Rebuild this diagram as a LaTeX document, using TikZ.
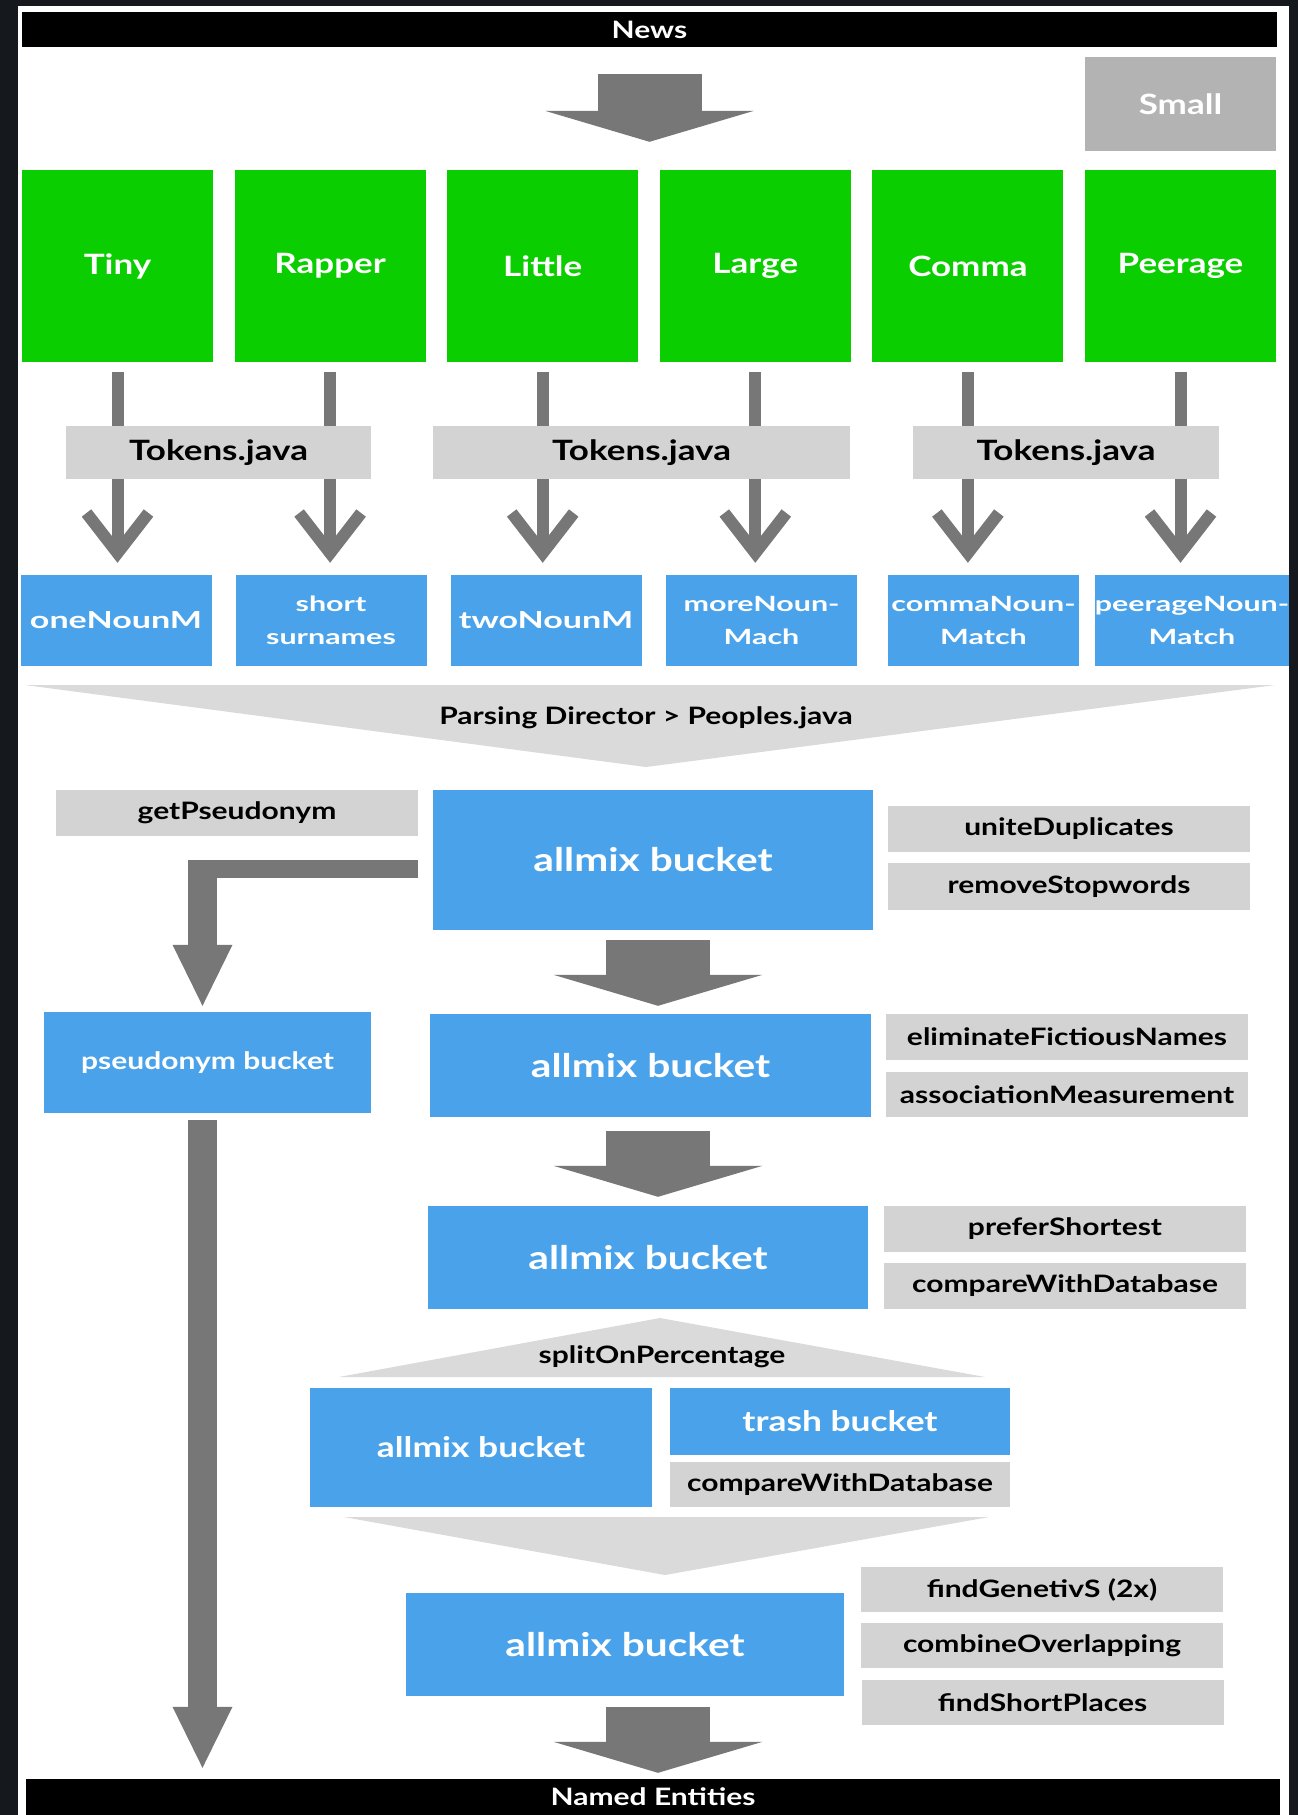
\documentclass[tikz,border=0pt]{standalone}
\usepackage{fontspec}
\setmainfont{Lato}[FakeStretch=1.25]
\newfontfamily\widefont{Lato}[FakeStretch=1.45]
\usetikzlibrary{arrows.meta}

\definecolor{framedark}{HTML}{15181C}
\definecolor{filtergreen}{HTML}{0BCE00}
\definecolor{bucketblue}{HTML}{4AA3EA}
\definecolor{methodgray}{HTML}{D3D3D3}
\definecolor{funnelgray}{HTML}{DADADA}
\definecolor{smallgray}{HTML}{B3B3B3}
\definecolor{arrowgray}{HTML}{777777}

\begin{document}
\begin{tikzpicture}[x=1pt, y=-1pt,
    every node/.style={inner sep=0pt, font=\bfseries},
    bar/.style={fill=black, text=white, minimum height=35pt,
      font=\bfseries\fontsize{24}{24}\selectfont},
    filter/.style={fill=filtergreen, text=white, minimum width=191pt,
      minimum height=192pt, font=\bfseries\fontsize{28}{28}\selectfont},
    tokens/.style={fill=methodgray, minimum height=53pt,
      font=\bfseries\fontsize{28}{28}\selectfont},
    match/.style={fill=bucketblue, text=white, minimum width=191pt,
      minimum height=91pt, align=center,
      font=\widefont\bfseries\fontsize{21}{33}\selectfont},
    bigmatch/.style={match, font=\widefont\bfseries\fontsize{23.5}{33}\selectfont},
    bucket/.style={fill=bucketblue, text=white,
      font=\bfseries\fontsize{32.5}{32.5}\selectfont},
    method/.style={fill=methodgray, minimum width=362pt, minimum height=46pt,
      font=\bfseries\fontsize{24}{24}\selectfont},
    funnel/.style={fill=funnelgray},
    tokline/.style={draw=arrowgray, line width=12pt},
    tokarrow/.style={tokline, -{Straight Barb[length=40pt, width=62pt]}},
    bigarrow/.style={draw=arrowgray, line width=104pt,
      -{Triangle[length=31pt, width=209pt, line width=0pt]}},
    sidearrow/.style={draw=arrowgray, line width=29pt,
      -{Triangle[length=61pt, width=60pt, line width=0pt]}}]

  % frame
  \useasboundingbox (0,0) rectangle (1298,1815);
  \fill[framedark] (0,0) rectangle (1298,1815);
  \fill[white] (18,6) rectangle (1289,1815);

  % input and the six filters
  \node[bar, minimum width=1255pt] (news) at (649.5,29.5) {News};
  \node[fill=smallgray, text=white, minimum width=191pt, minimum height=94pt,
    font=\bfseries\fontsize{28}{28}\selectfont] (small) at (1180.5,104) {Small};
  \node[filter] (tiny) at (117.5,266) {Tiny};
  \node[filter] (rapper) at (330.1,266) {Rapper};
  \node[filter] (little) at (542.7,266) {Little};
  \node[filter] (large) at (755.3,266) {Large};
  \node[filter] (comma) at (967.9,266) {Comma};
  \node[filter] (peerage) at (1180.5,266) {Peerage};
  \draw[bigarrow, shorten <=27pt, shorten >=28pt] (news.south) -- (news.south |- little.north);

  % tokenizers
  \node[tokens, minimum width=305pt] (tokA) at (218.5,452.5) {Tokens.java};
  \node[tokens, minimum width=417pt] (tokB) at (641.5,452.5) {Tokens.java};
  \node[tokens, minimum width=306pt] (tokC) at (1066,452.5) {Tokens.java};

  % matchers
  \node[bigmatch] (one) at (116,620.5) {oneNounM};
  \node[match] (surnames) at (331,620.5) {short\\surnames};
  \node[bigmatch] (two) at (546,620.5) {twoNounM};
  \node[match] (more) at (761.5,620.5) {moreNoun-\\Mach};
  \node[match] (commamatch) at (983.5,620.5) {commaNoun-\\Match};
  \node[match] (peeragematch) at (1192,620.5) {peerageNoun-\\Match};

  \draw[tokline, shorten <=10pt] (tiny.south) -- (tiny.south |- tokA.north);
  \draw[tokline, shorten <=10pt] (rapper.south) -- (rapper.south |- tokA.north);
  \draw[tokline, shorten <=10pt] (little.south) -- (little.south |- tokB.north);
  \draw[tokline, shorten <=10pt] (large.south) -- (large.south |- tokB.north);
  \draw[tokline, shorten <=10pt] (comma.south) -- (comma.south |- tokC.north);
  \draw[tokline, shorten <=10pt] (peerage.south) -- (peerage.south |- tokC.north);
  \draw[tokarrow, shorten >=12pt] (tiny.south |- tokA.south) -- (tiny.south |- one.north);
  \draw[tokarrow, shorten >=12pt] (rapper.south |- tokA.south) -- (rapper.south |- surnames.north);
  \draw[tokarrow, shorten >=12pt] (little.south |- tokB.south) -- (little.south |- two.north);
  \draw[tokarrow, shorten >=12pt] (large.south |- tokB.south) -- (large.south |- more.north);
  \draw[tokarrow, shorten >=12pt] (comma.south |- tokC.south) -- (comma.south |- commamatch.north);
  \draw[tokarrow, shorten >=12pt] (peerage.south |- tokC.south) -- (peerage.south |- peeragematch.north);

  % parsing director
  \fill[funnel] (25,685) -- (1275,685) -- (646,767) -- cycle;
  \node[font=\bfseries\fontsize{24}{24}\selectfont] (parsing) at (646,718)
    {Parsing Director > Peoples.java};

  % first bucket
  \node[method] (getpseud) at (237,812.5) {getPseudonym};
  \node[bucket, minimum width=440pt, minimum height=140pt] (allmixA) at (653,860) {allmix bucket};
  \node[method] (unite) at (1069,829) {uniteDuplicates};
  \node[method, minimum height=47pt] (remove) at (1069,886.5) {removeStopwords};

  % pseudonym branch
  \coordinate (pseudostart) at (418,869);
  \coordinate (elbow) at (202.5,869);
  \node[bucket, minimum width=327pt, minimum height=101pt,
    font=\bfseries\fontsize{24}{24}\selectfont] (pseudonym) at (207.5,1062.5) {pseudonym bucket};
  \draw[arrowgray, line width=18pt] (pseudostart) -- ([xshift=-14.5pt]elbow);
  \draw[sidearrow, shorten >=6pt] ([yshift=9pt]elbow) -- (elbow |- pseudonym.north);

  % second and third bucket
  \node[bucket, minimum width=441pt, minimum height=103pt] (allmixB) at (650.5,1065.5) {allmix bucket};
  \node[method] (elim) at (1067,1037) {eliminateFictiousNames};
  \node[method, minimum height=45pt] (assoc) at (1067,1094.5) {associationMeasurement};
  \draw[bigarrow, shorten <=10pt, shorten >=8pt] ([xshift=5pt]allmixA.south) -- ([xshift=5pt]allmixA.south |- allmixB.north);

  \node[bucket, minimum width=440pt, minimum height=103pt] (allmixC) at (648,1257.5) {allmix bucket};
  \node[method] (prefer) at (1065,1229) {preferShortest};
  \node[method] (compareA) at (1065,1286) {compareWithDatabase};
  \draw[bigarrow, shorten <=14pt, shorten >=9pt] ([xshift=7.5pt]allmixB.south) -- ([xshift=7.5pt]allmixB.south |- allmixC.north);

  % split and merge
  \fill[funnel] (339,1377) -- (660,1318) -- (985,1377) -- cycle;
  \node[font=\bfseries\fontsize{24}{24}\selectfont] (split) at (662,1357) {splitOnPercentage};
  \node[bucket, minimum width=342pt, minimum height=119pt,
    font=\bfseries\fontsize{28.3}{28.3}\selectfont] (allmixD) at (481,1447.5) {allmix bucket};
  \node[bucket, minimum width=340pt, minimum height=67pt,
    font=\bfseries\fontsize{28.3}{28.3}\selectfont] (trash) at (840,1421.5) {trash bucket};
  \node[method, minimum width=340pt, minimum height=45pt] (compareB) at (840,1484.5) {compareWithDatabase};
  \fill[funnel] (344,1517) -- (989,1517) -- (665,1575) -- cycle;

  % last bucket
  \node[bucket, minimum width=438pt, minimum height=103pt] (allmixE) at (625,1644.5) {allmix bucket};
  \node[method, minimum height=45pt] (genetiv) at (1042,1589.5) {findGenetivS (2x)};
  \node[method, minimum height=45pt] (combine) at (1042,1645.5) {combineOverlapping};
  \node[method, minimum height=45pt] (shortplaces) at (1042.5,1702.5) {findShortPlaces};

  % output
  \node[bar, minimum width=1254pt, minimum height=36pt] (named) at (653,1797) {Named Entities};
  \draw[bigarrow, shorten <=11pt, shorten >=6pt] ([xshift=33pt]allmixE.south) -- ([xshift=33pt]allmixE.south |- named.north);
  \draw[sidearrow, shorten <=7pt, shorten >=11pt] ([xshift=-5pt]pseudonym.south) -- ([xshift=-5pt]pseudonym.south |- named.north);
\end{tikzpicture}
\end{document}
